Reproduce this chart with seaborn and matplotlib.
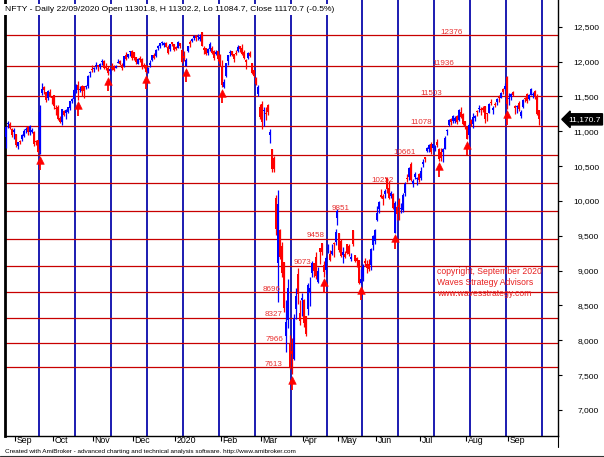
import numpy as np
import pandas as pd
import matplotlib
matplotlib.use("Agg")
import matplotlib.pyplot as plt
from matplotlib.lines import Line2D
from matplotlib.transforms import blended_transform_factory, offset_copy
import seaborn as sns

# ---------------- data (NIFTY daily, 26 Aug 2019 - 22 Sep 2020) ----------------
holidays = ['2019-09-02', '2019-09-10', '2019-10-02', '2019-10-08', '2019-10-21',
            '2019-10-28', '2019-11-12', '2019-12-25', '2020-02-21', '2020-03-10',
            '2020-04-02', '2020-04-06', '2020-04-10', '2020-04-14', '2020-05-01',
            '2020-05-25']
special_sessions = ['2019-10-27', '2020-02-01']

open_ = [
    10917, 11106, 11102, 11028, 10987,
    10961, 10790, 10861, 10883, 10936, 11020, 11058, 10986, 10995, 10995, 10852, 10870, 10747, 11543, 11628, 11564, 11470, 11556, 11491,
    11515, 11323, 11343, 11196, 11139, 11290, 11257, 11276, 11338, 11440, 11466, 11580, 11658, 11595, 11650, 11646, 11628, 11643, 11833, 11890,
    11886, 11929, 11946, 11919, 11987, 12012, 11924, 11908, 11869, 11904, 11915, 11911, 11978, 12005, 11950, 11931, 12094, 12068, 12133, 12146,
    12138, 12062, 11969, 12052, 12041, 11955, 11950, 11867, 11944, 12026, 12097, 12083, 12197, 12223, 12266, 12235, 12270, 12212, 12173, 12275, 12247,
    12202, 12199, 12262, 12170, 12080, 11939, 12153, 12272, 12296, 12333, 12349, 12348, 12329, 12430, 12195, 12196, 12123, 12175, 12198, 12148, 12114, 12148, 12100,
    11940, 11628, 11796, 12005, 12121, 12152, 12102, 12109, 12151, 12219, 12190, 12131, 12029, 12052, 12119, 11978, 11877, 11765, 11537, 11354,
    11387, 11290, 11255, 11380, 10943, 10743, 10609, 10039, 9107, 9588, 9356, 9124, 8063, 8286, 7945, 7849, 7735, 8451, 8949, 8386, 8584,
    8584, 8356, 8446, 8688, 8973, 9104, 9196, 8830, 9323, 9390, 9084, 9006, 9310, 9243, 9244, 9390, 9408, 9753,
    9533, 9429, 9227, 9234, 9377, 9348, 9161, 9584, 9218, 9183, 9158, 8823, 8914, 9136, 9091, 9102, 9082, 9364, 9423,
    9726, 9880, 10081, 10072, 10093, 10326, 10181, 10072, 10094, 9544, 9919, 10014, 9877, 9863, 10120, 10318, 10347, 10529, 10247, 10337, 10311, 10382,
    10323, 10525, 10615, 10723, 10745, 10819, 10755, 10756, 10851, 10751, 10701, 10706, 10752, 10999, 11090, 11174, 11150, 11149, 11225, 11154, 11276, 11254, 11140,
    11057, 10946, 11155, 11099, 11186, 11271, 11322, 11322, 11334, 11356, 11249, 11257, 11425, 11309, 11386, 11418, 11474, 11480, 11609, 11602, 11777,
    11464, 11487, 11561, 11355, 11351, 11400, 11220, 11350, 11484, 11540, 11464, 11522, 11515, 11574, 11491, 11301.8,
]
high = [
    11071, 11142, 11129, 11041, 11042,
    10961, 10845, 10881, 10958, 11029, 11054, 11082, 11085, 11052, 11000, 10880, 10876, 11382, 11695, 11655, 11566, 11588, 11611, 11491,
    11516, 11370, 11370, 11218, 11323, 11300, 11323, 11354, 11438, 11478, 11600, 11680, 11714, 11645, 11659, 11646, 11658, 11809, 11860, 11945,
    11918, 11989, 11957, 11981, 12034, 12021, 11974, 11931, 11898, 11973, 11946, 11957, 12038, 12015, 11974, 12084, 12132, 12114, 12158, 12159,
    12138, 12067, 12054, 12081, 12045, 11981, 11953, 11924, 12023, 12098, 12116, 12182, 12237, 12268, 12294, 12287, 12283, 12237, 12258, 12287, 12248,
    12222, 12289, 12265, 12179, 12152, 12044, 12224, 12311, 12338, 12374, 12359, 12389, 12389, 12430, 12225, 12201, 12190, 12276, 12216, 12163, 12163, 12151, 12103,
    12017, 11749, 11986, 12099, 12160, 12154, 12103, 12172, 12231, 12225, 12246, 12159, 12031, 12134, 12153, 11984, 11884, 11782, 11663, 11384,
    11433, 11348, 11342, 11386, 11036, 10751, 10648, 10081, 10159, 9602, 9404, 9128, 8575, 8884, 8083, 8036, 8377, 8749, 9038, 8576, 8678,
    8588, 8356, 8819, 8904, 9131, 9113, 9261, 9053, 9324, 9390, 9134, 9209, 9378, 9296, 9377, 9404, 9599, 9889,
    9533, 9450, 9346, 9277, 9382, 9379, 9247, 9584, 9227, 9191, 9159, 9030, 9093, 9178, 9150, 9161, 9331, 9511, 9598,
    9931, 9996, 10178, 10094, 10177, 10328, 10291, 10148, 10112, 9996, 9943, 10046, 9966, 10111, 10272, 10393, 10484, 10553, 10316, 10409, 10338, 10402,
    10486, 10599, 10631, 10776, 10814, 10848, 10819, 10809, 10894, 10755, 10755, 10755, 10933, 11037, 11179, 11191, 11240, 11225, 11226, 11312, 11341, 11255, 11150,
    11058, 11113, 11176, 11256, 11231, 11300, 11374, 11349, 11359, 11362, 11255, 11400, 11460, 11361, 11418, 11481, 11525, 11561, 11618, 11686, 11794,
    11554, 11553, 11584, 11374, 11382, 11429, 11303, 11457, 11493, 11552, 11536, 11618, 11561, 11585, 11535, 11302.2,
]
low = [
    10756, 11050, 11030, 10924, 10884,
    10773, 10747, 10816, 10867, 10917, 10972, 10946, 10945, 10968, 10790, 10808, 10691, 10670, 11523, 11541, 11416, 11452, 11492, 11389,
    11318, 11233, 11158, 11113, 11091, 11219, 11171, 11268, 11309, 11403, 11434, 11554, 11450, 11564, 11507, 11474, 11599, 11627, 11784, 11856,
    11843, 11898, 11862, 11887, 11949, 11888, 11885, 11802, 11820, 11879, 11863, 11901, 11974, 11956, 11883, 11919, 12022, 12047, 12085, 12018,
    12023, 11969, 11959, 11998, 11888, 11908, 11832, 11832, 11919, 12006, 12038, 12070, 12163, 12191, 12236, 12213, 12202, 12111, 12157, 12229, 12151,
    12165, 12195, 12191, 11975, 12005, 11929, 12133, 12213, 12285, 12308, 12292, 12315, 12300, 12216, 12115, 12087, 12087, 12150, 12107, 12025, 12099, 12010, 11931,
    11633, 11614, 11783, 11954, 12084, 12074, 11990, 12099, 12144, 12139, 12092, 12037, 11900, 12042, 12071, 11818, 11771, 11658, 11507, 11175,
    11036, 11082, 11156, 11234, 10827, 10414, 10415, 9508, 8555, 9165, 8915, 8407, 7833, 8176, 7583, 7511, 7715, 8304, 8523, 8215, 8356,
    8198, 8055, 8360, 8492, 8904, 8905, 8874, 8822, 9091, 9219, 8910, 8946, 9258, 9141, 9217, 9190, 9370, 9660,
    9266, 9190, 9116, 9175, 9238, 9208, 9131, 9351, 9117, 9056, 8807, 8807, 8844, 9068, 8969, 8996, 9004, 9299, 9377,
    9706, 9824, 10037, 9944, 10040, 10120, 10022, 10036, 9885, 9544, 9726, 9729, 9833, 9845, 10072, 10277, 10301, 10281, 10194, 10311, 10224, 10267,
    10299, 10485, 10562, 10695, 10696, 10676, 10737, 10713, 10771, 10577, 10566, 10562, 10749, 10953, 11078, 11090, 11111, 11116, 11102, 11151, 11184, 11085, 11026,
    10882, 10908, 11072, 11047, 11142, 11221, 11278, 11229, 11279, 11112, 11145, 11256, 11378, 11254, 11352, 11374, 11423, 11480, 11528, 11589, 11326,
    11370, 11452, 11500, 11253, 11256, 11290, 11185, 11328, 11419, 11406, 11455, 11521, 11479, 11465, 11226, 11084.7,
]
close = [
    11057, 11106, 11046, 10948, 11023,
    10798, 10845, 10848, 10947, 11003, 11036, 10982, 11076, 11004, 10818, 10841, 10705, 11274, 11600, 11588, 11441, 11571, 11512, 11474,
    11359, 11314, 11174, 11126, 11313, 11234, 11305, 11341, 11428, 11464, 11586, 11662, 11588, 11604, 11583, 11584, 11628, 11787, 11844, 11877,
    11891, 11941, 11917, 11966, 12012, 11908, 11913, 11840, 11872, 11895, 11884, 11940, 11999, 11968, 11914, 12073, 12038, 12101, 12151, 12056,
    12048, 11994, 12043, 12018, 11922, 11937, 11857, 11910, 11972, 12087, 12054, 12165, 12222, 12260, 12272, 12263, 12215, 12127, 12246, 12255, 12168,
    12182, 12282, 12227, 11993, 12053, 12025, 12216, 12257, 12330, 12362, 12344, 12355, 12352, 12224, 12170, 12107, 12180, 12248, 12120, 12055, 12129, 12036, 11962,
    11662, 11708, 11980, 12090, 12138, 12098, 12032, 12108, 12202, 12175, 12113, 12046, 11993, 12126, 12081, 11829, 11798, 11679, 11633, 11202,
    11132, 11303, 11251, 11270, 10989, 10451, 10458, 9590, 9955, 9198, 8967, 8469, 8264, 8746, 7610, 7801, 8318, 8641, 8660, 8281, 8598,
    8254, 8084, 8792, 8748, 9112, 8994, 8925, 8992, 9267, 9262, 8981, 9187, 9314, 9154, 9282, 9380, 9553, 9860,
    9294, 9206, 9271, 9200, 9252, 9240, 9197, 9384, 9143, 9137, 8824, 8880, 9067, 9106, 9039, 9029, 9315, 9491, 9580,
    9826, 9980, 10061, 10029, 10142, 10168, 10047, 10116, 9902, 9973, 9814, 9914, 9882, 10092, 10244, 10312, 10471, 10305, 10288, 10383, 10312, 10302,
    10430, 10552, 10607, 10764, 10800, 10706, 10813, 10768, 10802, 10607, 10618, 10740, 10902, 11022, 11162, 11132, 11215, 11194, 11132, 11300, 11202, 11102, 11073,
    10892, 11095, 11102, 11200, 11214, 11270, 11322, 11308, 11300, 11178, 11247, 11385, 11409, 11312, 11372, 11466, 11472, 11550, 11559, 11647, 11388,
    11470, 11536, 11527, 11333, 11355, 11318, 11278, 11450, 11464, 11440, 11522, 11605, 11516, 11505, 11251, 11170.7,
]

# horizontal price levels and the bar where each label sits
levels = [12376, 11936, 11503, 11078, 10661, 10252, 9851, 9458, 9073, 8696, 8327, 7966, 7613]
level_label_bar = [217.5, 213.5, 207.5, 202.5, 194, 183, 163, 150.5, 144, 128.5, 129.5, 130, 129.5]

# time-cycle lines (bar positions) and buy-signal bars
cycle_bars = [16.5, 34.5, 52.5, 70.5, 88.5, 106.5, 124.5, 142.5, 160.5, 178.5, 196.5, 214.5, 232.5, 250.5, 268.5]
buy_bars = [17, 36, 51, 70, 90, 108, 143, 159, 178, 195, 217, 231, 251]

month_labels = ['Sep', 'Oct', 'Nov', 'Dec', '2020', 'Feb', 'Mar', 'Apr', 'May', 'Jun', 'Jul', 'Aug', 'Sep']
y_ticks = [7000, 7500, 8000, 8500, 9000, 9500, 10000, 10500, 11000, 11500, 12000, 12500]

title = "NFTY - Daily 22/09/2020 Open 11301.8, H 11302.2, Lo 11084.7, Close 11170.7 (-0.5%)"
last_close_label = "11,170.7"
copyright_lines = ["copyright, September 2020", "Waves Strategy Advisors", "www.wavesstrategy.com"]
credit = "Created with AmiBroker - advanced charting and technical analysis software. http://www.amibroker.com"

# ---------------- styling ----------------
sns.set_theme(style="white")
plt.rcParams['font.family'] = ['Liberation Sans', 'DejaVu Sans']

BLUE = '#0000ff'
RED = '#ff0000'
LEVEL = '#c80000'
LABEL_RED = '#e83030'
NAVY = '#0000a8'

W, H = 604, 457
fig = plt.figure(figsize=(W / 100, H / 100), dpi=100)
fig.patch.set_facecolor('white')
ax = fig.add_axes([4.5 / W, 21 / H, 553 / W, 436 / H])
ax.set_facecolor('white')

YMIN, YMAX = 6627, 12883
XMIN, XMAX = -0.95, 276.3
ax.set_xlim(XMIN, XMAX)
ax.set_ylim(YMIN, YMAX)
ppx = (YMAX - YMIN) / 436.0  # price units per pixel

trading = pd.bdate_range('2019-08-26', '2020-09-22')
trading = trading.difference(pd.to_datetime(holidays)).union(pd.to_datetime(special_sessions))
df = pd.DataFrame({'date': trading, 'open': open_, 'high': high, 'low': low, 'close': close})
df['bar'] = np.arange(len(df))

# cycle lines and price levels
for cb in cycle_bars:
    ax.axvline(cb, color=NAVY, lw=1.25, zorder=1)
for lv, xb in zip(levels, level_label_bar):
    ax.axhline(lv, color=LEVEL, lw=0.9, zorder=2)
    ax.text(xb, lv + 2.8 * ppx, str(lv), color=LABEL_RED, fontsize=5.8,
            ha='left', va='center', zorder=5)

# candles
up = (df['close'] >= df['open']).values
cols = np.where(up, BLUE, RED)
ax.vlines(df['bar'], df['low'], df['high'], colors=cols, lw=0.9, zorder=4)
body = (df['close'] - df['open']).abs().clip(lower=1.2 * ppx)
ax.bar(df['bar'], body, bottom=np.minimum(df['open'], df['close']), width=1.0,
       color=cols, linewidth=0, zorder=4)

# buy arrows
sig = df.set_index('bar').loc[buy_bars]
sns.scatterplot(x=sig.index.values, y=(sig['low'] - 5.5 * ppx).values, marker='^', s=30,
                color=RED, edgecolor=RED, linewidth=0.4, ax=ax, zorder=6, legend=False)
ax.vlines(sig.index.values, sig['low'] - 16 * ppx, sig['low'] - 8 * ppx, colors=RED, lw=1.3, zorder=6)

# axes frame
ax.spines['top'].set_visible(False)
ax.spines['left'].set_color('black')
ax.spines['left'].set_linewidth(2)
ax.spines['bottom'].set_color('black')
ax.spines['bottom'].set_linewidth(1)
ax.spines['right'].set_color('black')
ax.spines['right'].set_linewidth(1)
ax.grid(False)

# y axis on the right
ax.set_yticks(y_ticks)
ax.set_yticklabels([f"{v:,}" for v in y_ticks])
ax.tick_params(axis='y', left=False, labelleft=False, right=True, labelright=True,
               direction='out', length=3, width=0.8, pad=27, labelsize=6, colors='black')
for t in ax.get_yticklabels():
    t.set_horizontalalignment('right')

# x axis months
month_first = df[df['date'] >= '2019-09-01'].groupby(df['date'].dt.to_period('M'))['bar'].min().values
ax.set_xticks(month_first - 0.5)
ax.set_xticklabels([])
ax.tick_params(axis='x', bottom=True, direction='out', length=3.5, width=0.8, colors='black')
xt = blended_transform_factory(ax.transData, ax.transAxes)
xt = offset_copy(xt, fig=fig, x=1.5, y=0, units='dots')
for mb, lab in zip(month_first, month_labels):
    ax.text(mb - 0.5, 0, lab, transform=xt, ha='left', va='top', fontsize=6.3, color='black')

# title with white background
fig.text(5 / W, 1 - 9.5 / H, title, fontsize=6.1, ha='left', va='center', color='black',
         bbox=dict(facecolor='white', edgecolor='none', pad=1.5), zorder=10)

# last price tag
tag_t = offset_copy(blended_transform_factory(ax.transAxes, ax.transData), fig=fig, x=10.5, y=0, units='dots')
ax.text(1.0, close[-1], last_close_label, transform=tag_t, ha='left', va='center', fontsize=6,
        color='white', clip_on=False, zorder=10,
        bbox=dict(boxstyle='larrow,pad=0.25', facecolor='black', edgecolor='black'))

# copyright block
for i, line in enumerate(copyright_lines):
    fig.text(437 / W, 1 - (271 + 11.5 * i) / H, line, fontsize=6.2, color='#e82020',
             ha='left', va='center')

fig.text(5 / W, 1 - 451.5 / H, credit, fontsize=4.6, color='black', ha='left', va='center')

# date-strip frame: right axis line continues down, thin border under credit line
fig.add_artist(Line2D([557.5 / W, 557.5 / W], [1 - 436 / H, 1 - 447 / H], color='black', lw=0.8))
fig.add_artist(Line2D([0, 1], [1 - 455.5 / H, 1 - 455.5 / H], color='#333333', lw=0.8))

fig.savefig('out.png', dpi=100, facecolor='white')
